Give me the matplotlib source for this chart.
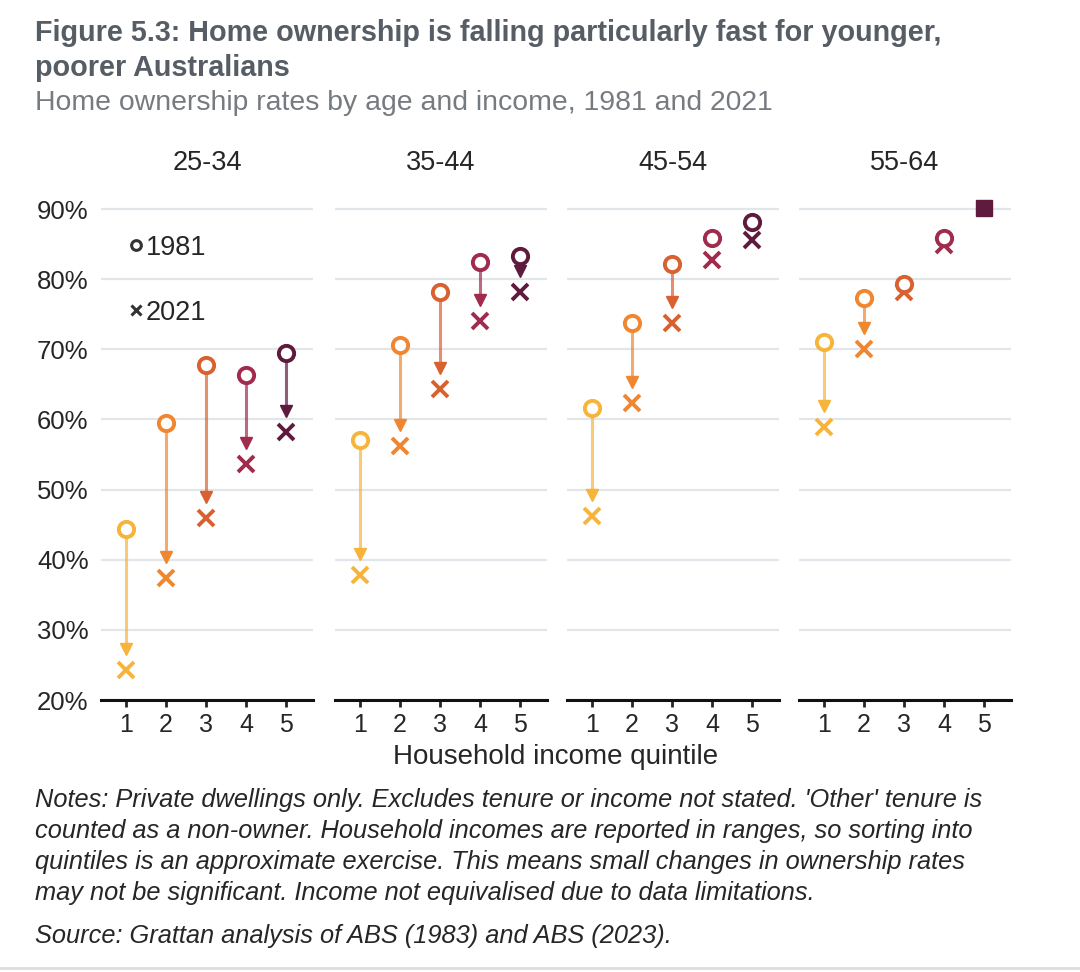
import matplotlib
matplotlib.use("Agg")
import matplotlib.pyplot as plt
from matplotlib.lines import Line2D

# Home ownership rates by age group and household income quintile
ages = ["25-34", "35-44", "45-54", "55-64"]
quintiles = [1, 2, 3, 4, 5]

own1981 = {
    "25-34": [44.4, 59.5, 67.8, 66.4, 69.5],
    "35-44": [57.0, 70.6, 78.1, 82.5, 83.3],
    "45-54": [61.7, 73.8, 82.1, 85.8, 88.2],
    "55-64": [71.1, 77.3, 79.3, 85.8, 90.1],
}
own2021 = {
    "25-34": [24.3, 37.4, 46.0, 53.7, 58.2],
    "35-44": [37.8, 56.2, 64.4, 74.1, 78.1],
    "45-54": [46.2, 62.4, 73.8, 82.8, 85.6],
    "55-64": [58.9, 70.1, 78.1, 84.9, 90.0],
}
yticks = [20, 30, 40, 50, 60, 70, 80, 90]

colours = ["#F6B43A", "#F0862F", "#D9602F", "#A02B4C", "#5E1B3D"]
title_col = "#565D64"
text_col = "#262626"

plt.rcParams["font.family"] = ["Liberation Sans", "DejaVu Sans"]

fig = plt.figure(figsize=(10.8, 9.72), dpi=100)

lefts = [101, 335, 567, 799]
for i, age in enumerate(ages):
    ax = fig.add_axes([lefts[i] / 1080, 1 - 700 / 972, 212 / 1080, 505 / 972])
    ax.set_xlim(0.375, 5.675)
    ax.set_ylim(20, 92)
    for sp in ["left", "right", "top"]:
        ax.spines[sp].set_visible(False)
    ax.spines["bottom"].set_linewidth(2.2)
    ax.spines["bottom"].set_color("#111111")
    ax.set_yticks(yticks)
    ax.yaxis.grid(True, color="#E2E5EA", lw=1.6)
    ax.set_axisbelow(True)
    ax.tick_params(axis="y", length=0, labelsize=18.5, colors=text_col, pad=9)
    if i == 0:
        ax.set_yticklabels([f"{t}%" for t in yticks])
    else:
        ax.set_yticklabels([])
    ax.set_xticks(quintiles)
    ax.tick_params(axis="x", length=5, width=2, direction="out", labelsize=18,
                   colors=text_col, pad=4)
    ax.text(0.5, 1.063, age, transform=ax.transAxes, ha="center", va="center",
            fontsize=19.5, color=text_col)

    for q, a, b, c in zip(quintiles, own1981[age], own2021[age], colours):
        if abs(a - b) < 0.5:
            ax.plot(q, a, marker="s", ms=11, color=c, zorder=5)
            continue
        if a - b > 4:
            head = b + 3.0
            ax.plot([q, q], [a, head], color=c, lw=2.2, alpha=0.7, zorder=2)
            ax.plot(q, head, marker="v", ms=8, color=c, mec=c, zorder=3)
        ax.plot(q, b, marker="x", ms=11, mew=2.8, color=c, zorder=4)
        ax.plot(q, a, marker="o", ms=11, mew=2.8, mfc="white", mec=c, zorder=5)

    if i == 0:
        handles = [
            Line2D([], [], ls="none", marker="o", ms=7, mew=2.2, mfc="white", mec="#333333"),
            Line2D([], [], ls="none", marker="x", ms=7, mew=2.2, color="#333333"),
        ]
        ax.legend(handles, ["1981", "2021"], loc="upper left", bbox_to_anchor=(0.02, 0.97),
                  frameon=False, fontsize=19.5, handlelength=0.5, handletextpad=0.1,
                  labelspacing=1.45, labelcolor=text_col)

fig.text(0.032, 1 - 33 / 972, "Figure 5.3: Home ownership is falling particularly fast for younger,",
         fontsize=20.7, fontweight="bold", color=title_col, va="center")
fig.text(0.032, 1 - 68 / 972, "poorer Australians",
         fontsize=20.7, fontweight="bold", color=title_col, va="center")
fig.text(0.032, 1 - 103 / 972, "Home ownership rates by age and income, 1981 and 2021",
         fontsize=20.4, color="#767B80", va="center")

fig.text(556 / 1080, 1 - 757 / 972, "Household income quintile", fontsize=20,
         color=text_col, ha="center", va="center")

notes = [
    "Notes: Private dwellings only. Excludes tenure or income not stated. 'Other' tenure is",
    "counted as a non-owner. Household incomes are reported in ranges, so sorting into",
    "quintiles is an approximate exercise. This means small changes in ownership rates",
    "may not be significant. Income not equivalised due to data limitations.",
]
for k, line in enumerate(notes):
    fig.text(0.032, 1 - (800 + 31 * k) / 972, line, fontsize=18.3, style="italic",
             color=text_col, va="center")
fig.text(0.032, 1 - 936 / 972, "Source: Grattan analysis of ABS (1983) and ABS (2023).",
         fontsize=18.3, style="italic", color=text_col, va="center")

fig.add_artist(Line2D([0, 1], [1 - 968 / 972, 1 - 968 / 972], color="#DDDDDD", lw=2))

fig.savefig("out.png", dpi=100, facecolor="white")
